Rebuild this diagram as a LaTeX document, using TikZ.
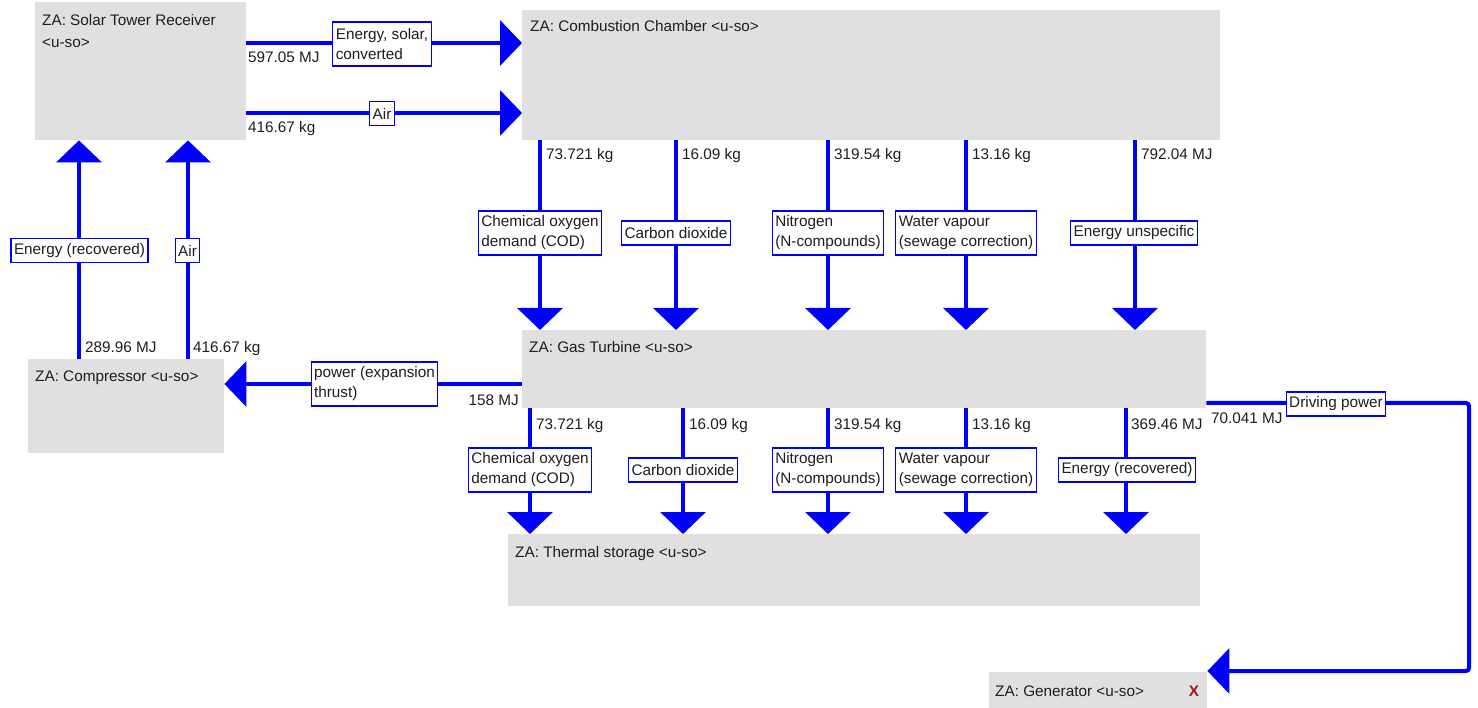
\documentclass[tikz,border=0pt]{standalone}
\usepackage{fontspec}
\setmainfont{Liberation Sans}
\usetikzlibrary{arrows.meta}
\definecolor{boxgray}{RGB}{224,224,224}
\definecolor{flowblue}{RGB}{0,0,255}
\definecolor{ink}{RGB}{30,30,30}
\definecolor{xred}{RGB}{160,20,20}

\begin{document}
\begin{tikzpicture}[x=1pt,y=-1pt,
  every node/.style={font=\fontsize{15.3}{20}\selectfont, text=ink},
  unit/.style={fill=boxgray, draw=none, anchor=north west, inner sep=0pt},
  title/.style={anchor=base west, inner sep=0pt},
  flow/.style={draw=flowblue, line width=4pt, -{Triangle[length=22pt,width=45pt]}},
  tag/.style={draw=flowblue, line width=1.2pt, fill=white, inner xsep=3pt, inner ysep=0pt,
              align=left, minimum height=24pt},
  tagtwo/.style={tag, minimum height=44pt},
  qty/.style={anchor=base west, inner sep=0pt},
]
\useasboundingbox (0,0) rectangle (1478,708);

% process units
\node[unit, minimum width=211pt, minimum height=138pt] (solar)   at (35,2)    {};
\node[unit, minimum width=698pt, minimum height=130pt] (comb)    at (522,10)  {};
\node[unit, minimum width=684pt, minimum height=78pt]  (gt)      at (522,330) {};
\node[unit, minimum width=692pt, minimum height=72pt]  (thermal) at (508,534) {};
\node[unit, minimum width=196pt, minimum height=94pt]  (comp)    at (28,359)  {};
\node[unit, minimum width=218pt, minimum height=40pt]  (gen)     at (989,672) {};

% unit titles
\node[title] (solar-t1) at (42,26)   {ZA: Solar Tower Receiver};
\node[title] (solar-t2) at (42,48)   {<u-so>};
\node[title] (comb-t)   at (530,32)  {ZA: Combustion Chamber <u-so>};
\node[title] (gt-t)     at (529,353) {ZA: Gas Turbine <u-so>};
\node[title] (therm-t)  at (515,557) {ZA: Thermal storage <u-so>};
\node[title] (comp-t)   at (35,382)  {ZA: Compressor <u-so>};
\node[title] (gen-t)    at (995,696) {ZA: Generator <u-so>};
\node[anchor=base, inner sep=0pt, text=xred, font=\fontsize{15.3}{20}\selectfont\bfseries] (gen-x) at (1194,696) {X};

% flows
\draw[flow] (solar.east |- 0,43)  -- (comb.west |- 0,43);
\draw[flow] (solar.east |- 0,113) -- (comb.west |- 0,113);
\draw[flow] (comp.north -| 79,0)  -- (solar.south -| 79,0);
\draw[flow] (comp.north -| 188,0) -- (solar.south -| 188,0);
\draw[flow] (gt.west |- 0,384) -- (comp.east |- 0,384);
\foreach \x in {540,676,828,966,1135}
  \draw[flow] (comb.south -| \x,0) -- (gt.north -| \x,0);
\foreach \x in {530,683,828,966,1126}
  \draw[flow] (gt.south -| \x,0) -- (thermal.north -| \x,0);
\draw[flow, rounded corners=3pt] (gt.east |- 0,403) -- (1469,403) -- (1469,671) -- (gen.east |- 0,671);

% flow tags
\node[tagtwo] (t-solar)  at (382,44)     {Energy, solar,\\converted};
\node[tag]    (t-air1)   at (382,113.5)  {Air};
\node[tag]    (t-erec1)  at (79.5,250.5) {Energy (recovered)};
\node[tag]    (t-air2)   at (187.5,250.5){Air};
\node[tagtwo] (t-power)  at (374.5,384)  {power (expansion\\thrust)};

\node[tagtwo] (c-cod)    at (540,233)  {Chemical oxygen\\demand (COD)};
\node[tag]    (c-co2)    at (676,233)  {Carbon dioxide};
\node[tagtwo] (c-n)      at (828,233)  {Nitrogen\\(N-compounds)};
\node[tagtwo] (c-h2o)    at (966,233)  {Water vapour\\(sewage correction)};
\node[tag]    (c-en)     at (1134,233) {Energy unspecific};

\node[tagtwo] (g-cod)    at (530,470)  {Chemical oxygen\\demand (COD)};
\node[tag]    (g-co2)    at (683,470)  {Carbon dioxide};
\node[tagtwo] (g-n)      at (828,470)  {Nitrogen\\(N-compounds)};
\node[tagtwo] (g-h2o)    at (966,470)  {Water vapour\\(sewage correction)};
\node[tag]    (g-en)     at (1127,470) {Energy (recovered)};

\node[tag]    (t-drive)  at (1336,404) {Driving power};

% quantities
\node[qty] (q1)  at (248,63)   {597.05 MJ};
\node[qty] (q2)  at (248,133)  {416.67 kg};
\node[qty] (q3)  at (85,353)   {289.96 MJ};
\node[qty] (q4)  at (193,353)  {416.67 kg};
\node[anchor=base east, inner sep=0pt] (q5) at (519,406) {158 MJ};

\node[qty] (qc1) at (546,160)  {73.721 kg};
\node[qty] (qc2) at (682,160)  {16.09 kg};
\node[qty] (qc3) at (834,160)  {319.54 kg};
\node[qty] (qc4) at (972,160)  {13.16 kg};
\node[qty] (qc5) at (1141,160) {792.04 MJ};

\node[qty] (qg1) at (536,429)  {73.721 kg};
\node[qty] (qg2) at (689,429)  {16.09 kg};
\node[qty] (qg3) at (834,429)  {319.54 kg};
\node[qty] (qg4) at (972,429)  {13.16 kg};
\node[qty] (qg5) at (1131,429) {369.46 MJ};

\node[qty] (qd)  at (1211,424) {70.041 MJ};
\end{tikzpicture}
\end{document}
